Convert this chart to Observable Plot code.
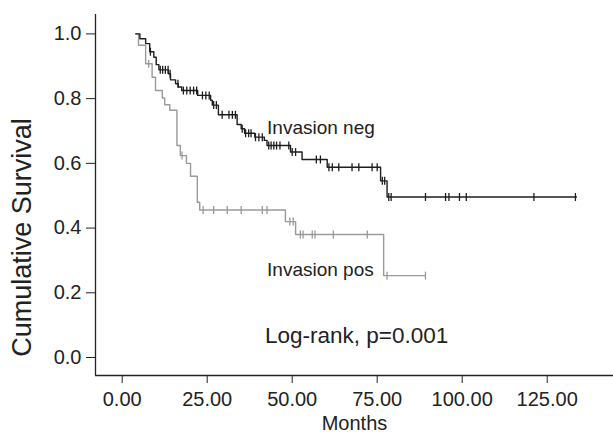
<!DOCTYPE html>
<html><head><meta charset="utf-8">
<script src="https://cdn.jsdelivr.net/npm/d3@7"></script>
<script src="https://cdn.jsdelivr.net/npm/@observablehq/plot@0.6"></script>
<style>
html,body{margin:0;padding:0;background:#fff;}
</style></head><body><div id="chart"></div>
<script>
// Invasion neg (black)
const negTimes = [4.0, 5.2, 6.9, 8.1, 9.3, 10.0, 10.8, 13.6, 14.2, 15.7, 16.5, 17.5, 22.2, 26.0, 26.5, 28.3, 33.8, 35.0, 36.0, 39.0, 41.8, 42.6, 49.5, 52.9, 60.3, 76.0, 77.9];
const negSurv  = [1.0, 0.985, 0.970, 0.945, 0.928, 0.905, 0.889, 0.877, 0.858, 0.846, 0.836, 0.825, 0.810, 0.795, 0.780, 0.750, 0.720, 0.707, 0.693, 0.681, 0.671, 0.655, 0.635, 0.612, 0.588, 0.546, 0.496];
const negEnd = 133.6;
const negCensor = [8.3, 11.2, 11.9, 12.7, 13.5, 14.1, 16.4, 18.0, 19.0, 20.0, 21.0, 21.9, 23.6, 24.6, 25.6, 26.9, 27.7, 29.4, 31.4, 32.4, 33.3, 35.3, 36.3, 37.2, 37.9, 39.2, 40.2, 41.2, 43.1, 43.8, 44.6, 45.4, 46.4, 49.0, 50.0, 51.0, 57.1, 58.3, 60.8, 61.8, 63.7, 67.6, 69.6, 73.5, 75.0, 76.5, 77.2, 78.4, 79.1, 89.2, 95.1, 96.1, 99.2, 101.2, 121.1, 133.3];

// Invasion pos (gray)
const posTimes = [4.0, 4.8, 6.9, 8.8, 9.8, 11.8, 12.5, 14.0, 16.1, 17.1, 18.9, 20.1, 22.1, 22.8, 48.0, 51.0, 76.9];
const posSurv  = [1.0, 0.965, 0.908, 0.866, 0.825, 0.802, 0.781, 0.764, 0.655, 0.624, 0.600, 0.560, 0.480, 0.456, 0.420, 0.380, 0.253];
const posEnd = 89.2;
const posCensor = [7.8, 17.6, 23.8, 26.9, 30.9, 35.0, 41.2, 42.6, 49.3, 50.3, 52.4, 53.2, 55.9, 56.7, 62.1, 72.1, 77.9, 89.2];

const xTicks = [0, 25, 50, 75, 100, 125];
const yTicks = [0.0, 0.2, 0.4, 0.6, 0.8, 1.0];
const annotations = [
  {text: "Invasion neg", x: 42.6, y: 0.709, size: 19},
  {text: "Invasion pos", x: 42.6, y: 0.270, size: 19},
  {text: "Log-rank, p=0.001", x: 42.0, y: 0.066, size: 22.5}
];

const xDomain = [-7.85, 144.5];
const yDomain = [-0.0556, 1.060];

function stepData(times, surv, end) {
  const pts = times.map((t, i) => ({t, s: surv[i]}));
  pts.push({t: end, s: surv[surv.length - 1]});
  return pts;
}
function survAt(times, surv, t) {
  let s = surv[0];
  for (let i = 0; i < times.length; i++) if (times[i] <= t) s = surv[i];
  return s;
}
const censorData = (times, surv, cens) => cens.map(t => ({t, s: survAt(times, surv, t)}));

const vtick = {draw(ctx, size) { const h = Math.sqrt(size / Math.PI); ctx.moveTo(0, -h); ctx.lineTo(0, h); }};

const BLACK = "#1e1e1e", GRAY = "#9a9a9a";
const font = "'Liberation Sans', Arial, Helvetica, sans-serif";

const chart = Plot.plot({
  width: 613,
  height: 435,
  marginLeft: 95,
  marginRight: 0,
  marginTop: 14,
  marginBottom: 60,
  style: {fontFamily: font, fontSize: "20px", color: "#222", background: "#fff", overflow: "visible"},
  x: {domain: xDomain, ticks: xTicks, tickFormat: d3.format(".2f"), tickSize: 8, tickPadding: 8, label: null},
  y: {domain: yDomain, ticks: yTicks, tickFormat: d3.format(".1f"), tickSize: 9, tickPadding: 5, label: null},
  marks: [
    Plot.ruleX([xDomain[0]], {stroke: "#222", strokeWidth: 1.3}),
    Plot.ruleY([yDomain[0]], {stroke: "#222", strokeWidth: 1.3}),
    Plot.line(stepData(posTimes, posSurv, posEnd), {x: "t", y: "s", curve: "step-after", stroke: GRAY, strokeWidth: 1.4}),
    Plot.dot(censorData(posTimes, posSurv, posCensor), {x: "t", y: "s", symbol: vtick, r: 4, stroke: GRAY, strokeWidth: 1.3}),
    Plot.line(stepData(negTimes, negSurv, negEnd), {x: "t", y: "s", curve: "step-after", stroke: BLACK, strokeWidth: 1.4}),
    Plot.dot(censorData(negTimes, negSurv, negCensor), {x: "t", y: "s", symbol: vtick, r: 4, stroke: BLACK, strokeWidth: 1.3}),
    Plot.text(annotations, {x: "x", y: "y", text: "text", fontSize: "size", textAnchor: "start", lineAnchor: "middle", fill: "#222"}),
    Plot.text(["Months"], {frameAnchor: "bottom", text: d => d, textAnchor: "middle", lineAnchor: "middle", dy: 48, fontSize: 20, fill: "#222"}),
    Plot.text(["Cumulative Survival"], {frameAnchor: "left", text: d => d, rotate: -90, textAnchor: "middle", lineAnchor: "middle", dx: -73, dy: 42.5, fontSize: 27, fill: "#222"})
  ]
});
document.getElementById("chart").appendChild(chart);
</script>
</body></html>
